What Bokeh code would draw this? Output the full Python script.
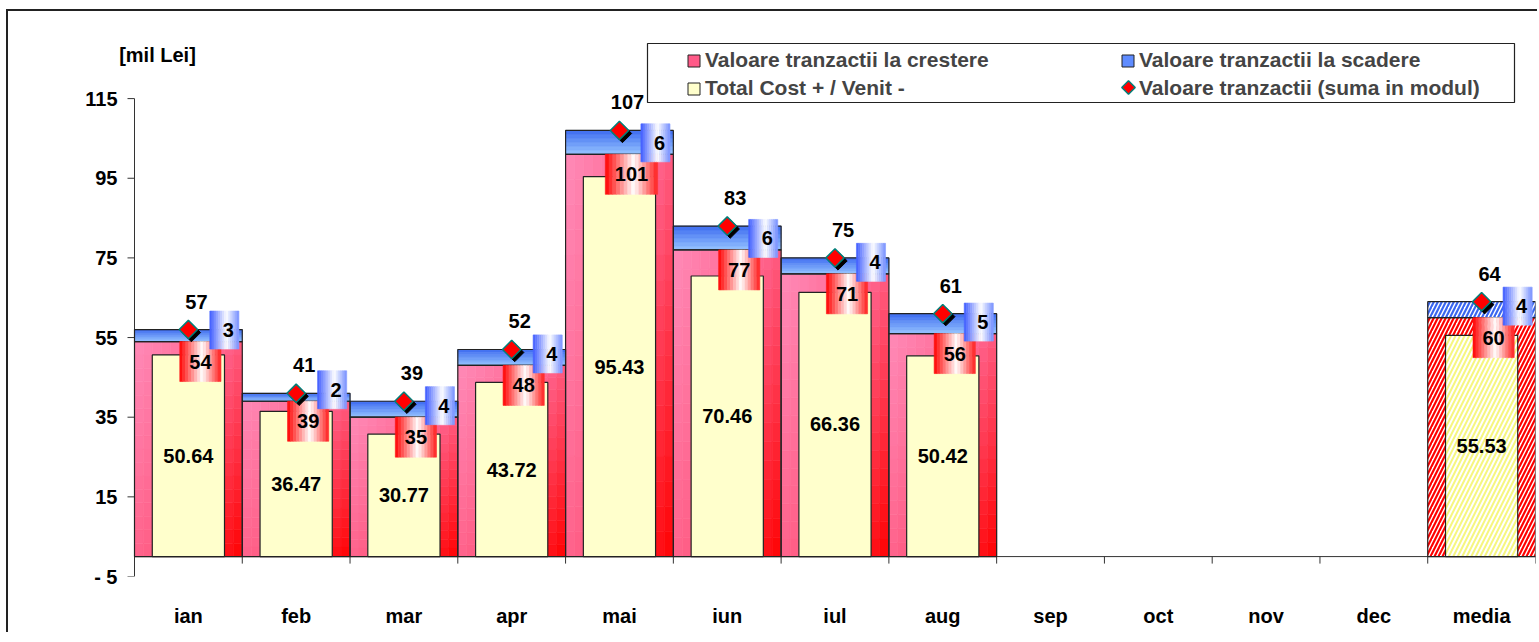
import math
from bokeh.plotting import figure
from bokeh.models import (FixedTicker, LinearAxis, Legend, LegendItem, Range1d)
from bokeh.core.properties import value
from bokeh.embed import file_html
from bokeh.resources import INLINE

# ---------------- data ----------------
categories = ["ian", "feb", "mar", "apr", "mai", "iun", "iul", "aug",
              "sep", "oct", "nov", "dec", "media"]
crestere = [54, 39, 35, 48, 101, 77, 71, 56, None, None, None, None, 60]
scadere = [3, 2, 4, 4, 6, 6, 4, 5, None, None, None, None, 4]
suma_modul = [57, 41, 39, 52, 107, 83, 75, 61, None, None, None, None, 64]
total_cost = [50.64, 36.47, 30.77, 43.72, 95.43, 70.46, 66.36, 50.42,
              None, None, None, None, 55.53]
y_ticks = [-5, 15, 35, 55, 75, 95, 115]
y_tick_labels = {-5: "- 5"}

# ---------------- layout constants ----------------
FONT = "Liberation Sans"
N = len(categories)
PX_X = 1401 / N                 # pixels per category
AX = 134                        # page x of the value axis (category 0 left edge)
FL, FT = 112, 30                # frame left / top on the page
FRAME_W = int(round(AX - FL + N * PX_X))
FRAME_H = 546
X0 = -(AX - FL) / PX_X
Y0, Y1 = -5, 132.1
PX_Y = FRAME_H / (Y1 - Y0)
FB = FT + FRAME_H


def px_x(px):
    return (px - AX) / PX_X


def px_y(py):
    return Y0 + (FB - py) / PX_Y


def lerp_color(stops, t):
    t = min(max(t, 0.0), 1.0)
    for (t0, c0), (t1, c1) in zip(stops[:-1], stops[1:]):
        if t <= t1:
            f = (t - t0) / (t1 - t0) if t1 > t0 else 0
            return "#%02x%02x%02x" % tuple(int(round(a + (b - a) * f)) for a, b in zip(c0, c1))
    return "#%02x%02x%02x" % stops[-1][1]


PINK_STOPS = [(0, (255, 138, 184)), (0.5, (255, 96, 136)), (1, (255, 0, 0))]
BLUE_STOPS = [(0, (150, 196, 255)), (1, (62, 108, 240))]
RED_LBL = [(0, (255, 0, 0)), (0.55, (255, 255, 255)), (1, (255, 30, 30))]
BLUE_LBL = [(0, (60, 90, 255)), (0.58, (255, 255, 255)), (1, (120, 145, 255))]

p = figure(frame_width=FRAME_W, frame_height=FRAME_H,
           x_range=Range1d(X0, N), y_range=Range1d(Y0, Y1),
           x_axis_type=None, y_axis_type=None,
           output_backend="svg", toolbar_location=None,
           min_border_left=FL - 8, min_border_right=2,
           min_border_top=19, min_border_bottom=56)
p.outline_line_color = None
p.background_fill_color = "white"
p.border_fill_color = "white"
p.styles = {"margin-left": "6px", "margin-top": "9px",
            "border-left": "2px solid #222", "border-top": "2px solid #222"}

# ---------------- axes ----------------
# value axis: labels from the library axis, drawn next to the zero category edge
yaxis = LinearAxis(ticker=FixedTicker(ticks=y_ticks), major_label_overrides=y_tick_labels)
yaxis.major_tick_out = 0
yaxis.major_tick_in = 0
yaxis.minor_tick_line_color = None
yaxis.axis_line_color = None
yaxis.major_tick_line_color = None
yaxis.major_label_standoff = FL - (AX - 17)
yaxis.major_label_text_font = FONT
yaxis.major_label_text_font_style = "bold"
yaxis.major_label_text_font_size = "20px"
yaxis.major_label_text_color = "black"
p.add_layout(yaxis, "left")
p.segment(x0=[0], x1=[0], y0=[y_ticks[0]], y1=[y_ticks[-1]], line_color="#333333", line_width=1)
p.segment(x0=[-7 / PX_X] * len(y_ticks), x1=[0] * len(y_ticks), y0=y_ticks, y1=y_ticks,
          line_color="#333333", line_width=1)

centers = [i + 0.5 for i in range(N)]
xaxis = LinearAxis(ticker=FixedTicker(ticks=centers),
                   major_label_overrides={c: n for c, n in zip(centers, categories)})
xaxis.axis_line_color = None
xaxis.major_tick_line_color = None
xaxis.minor_tick_line_color = None
xaxis.major_label_standoff = 22
xaxis.major_label_text_font = FONT
xaxis.major_label_text_font_style = "bold"
xaxis.major_label_text_font_size = "20px"
xaxis.major_label_text_color = "black"
p.add_layout(xaxis, "below")

# category axis line at zero with boundary ticks
p.segment(x0=[0], x1=[N], y0=[0], y1=[0], line_color="#333333", line_width=1)
bounds = list(range(N + 1))
p.segment(x0=bounds, x1=bounds, y0=[0] * len(bounds), y1=[-7 / PX_Y] * len(bounds),
          line_color="#333333", line_width=1)

# ---------------- bars ----------------
NX, NY = 12, 16
pink = dict(left=[], right=[], bottom=[], top=[], color=[])
blue = dict(left=[], right=[], bottom=[], top=[], color=[])
for i, (c, s) in enumerate(zip(crestere, suma_modul)):
    if c is None or categories[i] == "media":
        continue
    for ix in range(NX):
        for iy in range(NY):
            xf = (ix + 0.5) / NX
            yf = (iy + 0.5) / NY
            t = 0.55 * xf + 0.45 * (1 - yf)
            pink["left"].append(i + ix / NX)
            pink["right"].append(i + (ix + 1) / NX)
            pink["bottom"].append(c * iy / NY)
            pink["top"].append(c * (iy + 1) / NY)
            pink["color"].append(lerp_color(PINK_STOPS, t))
    nyb = 6
    for iy in range(nyb):
        blue["left"].append(i)
        blue["right"].append(i + 1)
        blue["bottom"].append(c + (s - c) * iy / nyb)
        blue["top"].append(c + (s - c) * (iy + 1) / nyb)
        blue["color"].append(lerp_color(BLUE_STOPS, (iy + 0.5) / nyb))

p.quad(left="left", right="right", bottom="bottom", top="top", source=pink,
       fill_color="color", line_color="color", line_width=0.6)
p.quad(left="left", right="right", bottom="bottom", top="top", source=blue,
       fill_color="color", line_color="color", line_width=0.6)

# hatched media bars
mi = [i for i, n in enumerate(categories) if n == "media"]
p.quad(left=mi, right=[i + 1 for i in mi], bottom=[0] * len(mi),
       top=[crestere[i] for i in mi], fill_color="white", line_color=None,
       hatch_pattern="right_diagonal_line", hatch_color="#ff0000", hatch_weight=2.2, hatch_scale=8)
p.quad(left=mi, right=[i + 1 for i in mi], bottom=[crestere[i] for i in mi],
       top=[suma_modul[i] for i in mi], fill_color="white", line_color=None,
       hatch_pattern="right_diagonal_line", hatch_color="#3a66f0", hatch_weight=2.2, hatch_scale=8)

valid = [i for i in range(N) if crestere[i] is not None]
p.quad(left=valid, right=[i + 1 for i in valid], bottom=[0] * len(valid),
       top=[crestere[i] for i in valid], fill_color=None, line_color="#222222", line_width=1.2)
p.quad(left=valid, right=[i + 1 for i in valid], bottom=[crestere[i] for i in valid],
       top=[suma_modul[i] for i in valid], fill_color=None, line_color="#222222", line_width=1.2)

# yellow inner bars
YW = 0.335
plain = [i for i in valid if categories[i] != "media"]
p.quad(left=[i + 0.5 - YW for i in plain], right=[i + 0.5 + YW for i in plain],
       bottom=[0] * len(plain), top=[total_cost[i] for i in plain],
       fill_color="#ffffcc", line_color="#222222", line_width=1.2)
p.quad(left=[i + 0.5 - YW for i in mi], right=[i + 0.5 + YW for i in mi],
       bottom=[0] * len(mi), top=[total_cost[i] for i in mi],
       fill_color="white", line_color="#222222", line_width=1.2,
       hatch_pattern="right_diagonal_line", hatch_color="#f6f680", hatch_weight=2, hatch_scale=9)

# ---------------- label boxes ----------------
NS = 14
red_s = dict(left=[], right=[], bottom=[], top=[], color=[])
blue_s = dict(left=[], right=[], bottom=[], top=[], color=[])
red_txt = dict(x=[], y=[], t=[])
blue_txt = dict(x=[], y=[], t=[])
for i in valid:
    c, d = crestere[i], scadere[i]
    tr = str(int(round(c)))
    w = (11.1 * len(tr) + 19) / PX_X
    cx = i + 0.5 + 12 / PX_X
    top = c
    bot = c - 40 / PX_Y
    for k in range(NS):
        red_s["left"].append(cx - w / 2 + w * k / NS)
        red_s["right"].append(cx - w / 2 + w * (k + 1) / NS)
        red_s["bottom"].append(bot)
        red_s["top"].append(top)
        red_s["color"].append(lerp_color(RED_LBL, (k + 0.5) / NS))
    red_txt["x"].append(cx)
    red_txt["y"].append((top + bot) / 2)
    red_txt["t"].append(tr)
    tb = str(int(round(d)))
    wb = (11.1 * len(tb) + 18) / PX_X
    bx = i + 0.5 + 36 / PX_X
    by = c + 11.5 / PX_Y
    hb = 38 / PX_Y
    for k in range(NS):
        blue_s["left"].append(bx - wb / 2 + wb * k / NS)
        blue_s["right"].append(bx - wb / 2 + wb * (k + 1) / NS)
        blue_s["bottom"].append(by - hb / 2)
        blue_s["top"].append(by + hb / 2)
        blue_s["color"].append(lerp_color(BLUE_LBL, (k + 0.5) / NS))
    blue_txt["x"].append(bx + 4 / PX_X)
    blue_txt["y"].append(by)
    blue_txt["t"].append(tb)

p.quad(left="left", right="right", bottom="bottom", top="top", source=red_s,
       fill_color="color", line_color="color", line_width=0.6)

# diamonds (sum in modulus) with shadow
sx = [i + 0.5 for i in valid]
sy = [suma_modul[i] for i in valid]
p.scatter(x=[x + 3 / PX_X for x in sx], y=[y - 3 / PX_Y for y in sy], marker="square",
          angle=math.pi / 4, size=13, fill_color="black", line_color="black")
p.scatter(x=sx, y=sy, marker="square", angle=math.pi / 4, size=13,
          fill_color="#ff0000", line_color="#00807a", line_width=1.5)

p.quad(left="left", right="right", bottom="bottom", top="top", source=blue_s,
       fill_color="color", line_color="color", line_width=0.6)

# ---------------- texts ----------------
tstyle = dict(text_font=value(FONT), text_font_style="bold", text_font_size="20px",
              text_color="black", text_align="center", text_baseline="middle")
p.text(x="x", y="y", text="t", source=red_txt, **tstyle)
p.text(x="x", y="y", text="t", source=blue_txt, **tstyle)
p.text(x=[i + 0.5 + 8 / PX_X for i in valid],
       y=[suma_modul[i] + 28 / PX_Y for i in valid],
       text=[str(int(round(suma_modul[i]))) for i in valid], **tstyle)
p.text(x=[i + 0.5 for i in valid], y=[total_cost[i] / 2 for i in valid],
       text=["%.2f" % total_cost[i] for i in valid], **tstyle)
p.text(x=[px_x(157)], y=[px_y(54)], text=["[mil Lei]"], **tstyle)

# ---------------- legend ----------------
p.quad(left=[px_x(647)], right=[px_x(1514)], bottom=[px_y(102)], top=[px_y(43)],
       fill_color="white", line_color="#222222", line_width=1.2, level="overlay")

off = dict(left=[-5], right=[-4], bottom=[-5], top=[-4])
r_pink = p.quad(**off, fill_color="#ff5a88", line_color="#222222")
r_blue = p.quad(**off, fill_color="#5f8cff", line_color="#222222")
r_yel = p.quad(**off, fill_color="#ffffcc", line_color="#222222")
r_dia = p.scatter(x=[-5], y=[-5], marker="square", fill_alpha=0, line_alpha=0)
p.scatter(x=[px_x(1128)], y=[px_y(87)], marker="square", angle=math.pi / 4, size=9.5,
          fill_color="#ff0000", line_color="#00807a", line_width=1.5, level="overlay")

leg_common = dict(padding=0, margin=0, border_line_color=None, background_fill_alpha=0,
                  label_text_font=FONT, label_text_font_style="bold",
                  label_text_font_size="21px", glyph_width=15, glyph_height=15,
                  label_standoff=4, spacing=4)
legA = Legend(items=[LegendItem(label="Valoare tranzactii la crestere", renderers=[r_pink]),
                     LegendItem(label="Total Cost + / Venit -", renderers=[r_yel])],
              location=(552 + AX - FL, 476), **leg_common)
legB = Legend(items=[LegendItem(label="Valoare tranzactii la scadere", renderers=[r_blue]),
                     LegendItem(label="Valoare tranzactii (suma in modul)", renderers=[r_dia])],
              location=(986 + AX - FL, 476), **leg_common)
p.add_layout(legA, "center")
p.add_layout(legB, "center")

open("out.html", "w").write(file_html(p, INLINE))
